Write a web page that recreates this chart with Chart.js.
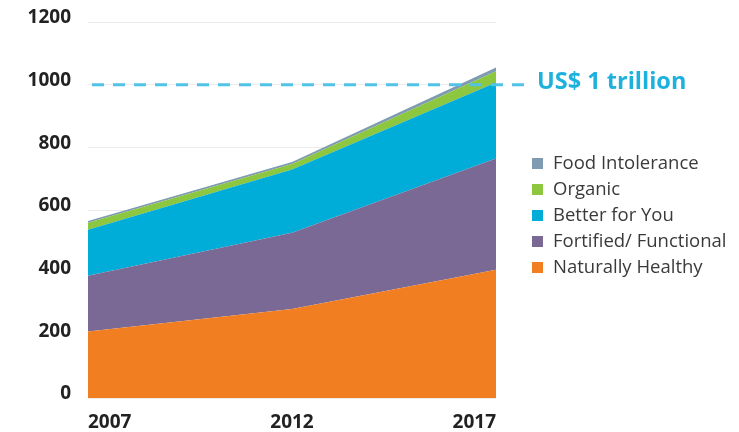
<!DOCTYPE html>
<html>
<head>
<meta charset="utf-8">
<script src="https://cdn.jsdelivr.net/npm/chart.js@4.4.1/dist/chart.umd.min.js"></script>
<style>
  html, body { margin: 0; padding: 0; background: #fff; }
  #wrap { width: 739px; height: 432px; }
</style>
</head>
<body>
<div id="wrap"><canvas id="healthFoods"></canvas></div>
<script>
const years = ["2007", "2012", "2017"];
const naturallyHealthy = [212, 284, 409];
const fortifiedFunctional = [178, 243, 355];
const betterForYou = [147, 202, 243];
const organic = [22, 18, 36];
const foodIntolerance = [6, 6, 12];
const yTicks = [0, 200, 400, 600, 800, 1000, 1200];
const trillionMark = 1000;
const trillionLabel = "US$ 1 trillion";

const font = "'Open Sans', 'Liberation Sans', sans-serif";

// dashed target line + its label, drawn over the areas
const trillionLine = {
  id: "trillionLine",
  afterDatasetsDraw(chart) {
    const { ctx, chartArea, scales } = chart;
    const y = scales.y.getPixelForValue(trillionMark);
    ctx.save();
    ctx.strokeStyle = "#52c3e6";
    ctx.lineWidth = 3;
    ctx.setLineDash([12, 9]);
    ctx.beginPath();
    ctx.moveTo(chartArea.left + 4, y);
    ctx.lineTo(chartArea.right + 34, y);
    ctx.stroke();
    ctx.setLineDash([]);
    ctx.fillStyle = "#1fb1de";
    ctx.font = "bold 23.5px " + font;
    ctx.textBaseline = "middle";
    ctx.fillText(trillionLabel, chartArea.right + 41, y - 2);
    ctx.restore();
  },
};

// the built-in right legend gets squeezed, so draw the key ourselves
const sideLegend = {
  id: "sideLegend",
  afterDraw(chart) {
    const { ctx, chartArea } = chart;
    const items = chart.data.datasets.slice().reverse();
    const x = chartArea.right + 36;
    ctx.save();
    ctx.font = "18.5px " + font;
    ctx.textBaseline = "middle";
    items.forEach((ds, i) => {
      const y = 164 + i * 26;
      ctx.fillStyle = ds.backgroundColor;
      ctx.fillRect(x, y - 6, 11, 11);
      ctx.fillStyle = "#3a3a3a";
      ctx.fillText(ds.label, x + 21, y);
    });
    ctx.restore();
  },
};

const area = (label, values, color, fill) => ({
  label: label,
  data: values,
  backgroundColor: color,
  borderColor: color,
  borderWidth: 0,
  pointRadius: 0,
  tension: 0,
  fill: fill,
});

new Chart(document.getElementById("healthFoods"), {
  type: "line",
  data: {
    labels: years,
    datasets: [
      area("Naturally Healthy", naturallyHealthy, "#f17f22", "origin"),
      area("Fortified/ Functional", fortifiedFunctional, "#7b6995", "-1"),
      area("Better for You", betterForYou, "#00acd8", "-1"),
      area("Organic", organic, "#8dc63f", "-1"),
      area("Food Intolerance", foodIntolerance, "#7e9bb2", "-1"),
    ],
  },
  options: {
    responsive: true,
    maintainAspectRatio: false,
    animation: false,
    devicePixelRatio: 1,
    layout: { padding: { top: 22, left: 0, right: 243, bottom: 0 } },
    scales: {
      x: {
        grid: { display: false, drawTicks: false },
        border: { display: false },
        ticks: {
          align: "inner",
          padding: 13,
          maxRotation: 0,
          autoSkip: false,
          color: "#222",
          font: { family: font, size: 19, weight: "bold" },
        },
        afterFit: (s) => { s.height = 34; },
      },
      y: {
        stacked: true,
        min: yTicks[0],
        max: yTicks[yTicks.length - 1],
        ticks: {
          stepSize: yTicks[1] - yTicks[0],
          padding: 17,
          labelOffset: -4,
          color: "#222",
          font: { family: font, size: 19, weight: "bold" },
          callback: (v) => String(v),
        },
        grid: { color: "#ebebeb", drawTicks: false },
        border: { display: false },
        afterFit: (s) => {
          s.width = 88;
          s.paddingTop = 0;
          s.paddingBottom = 0;
        },
      },
    },
    plugins: {
      tooltip: { enabled: false },
      legend: { display: false },
    },
  },
  plugins: [trillionLine, sideLegend],
});
</script>
</body>
</html>
